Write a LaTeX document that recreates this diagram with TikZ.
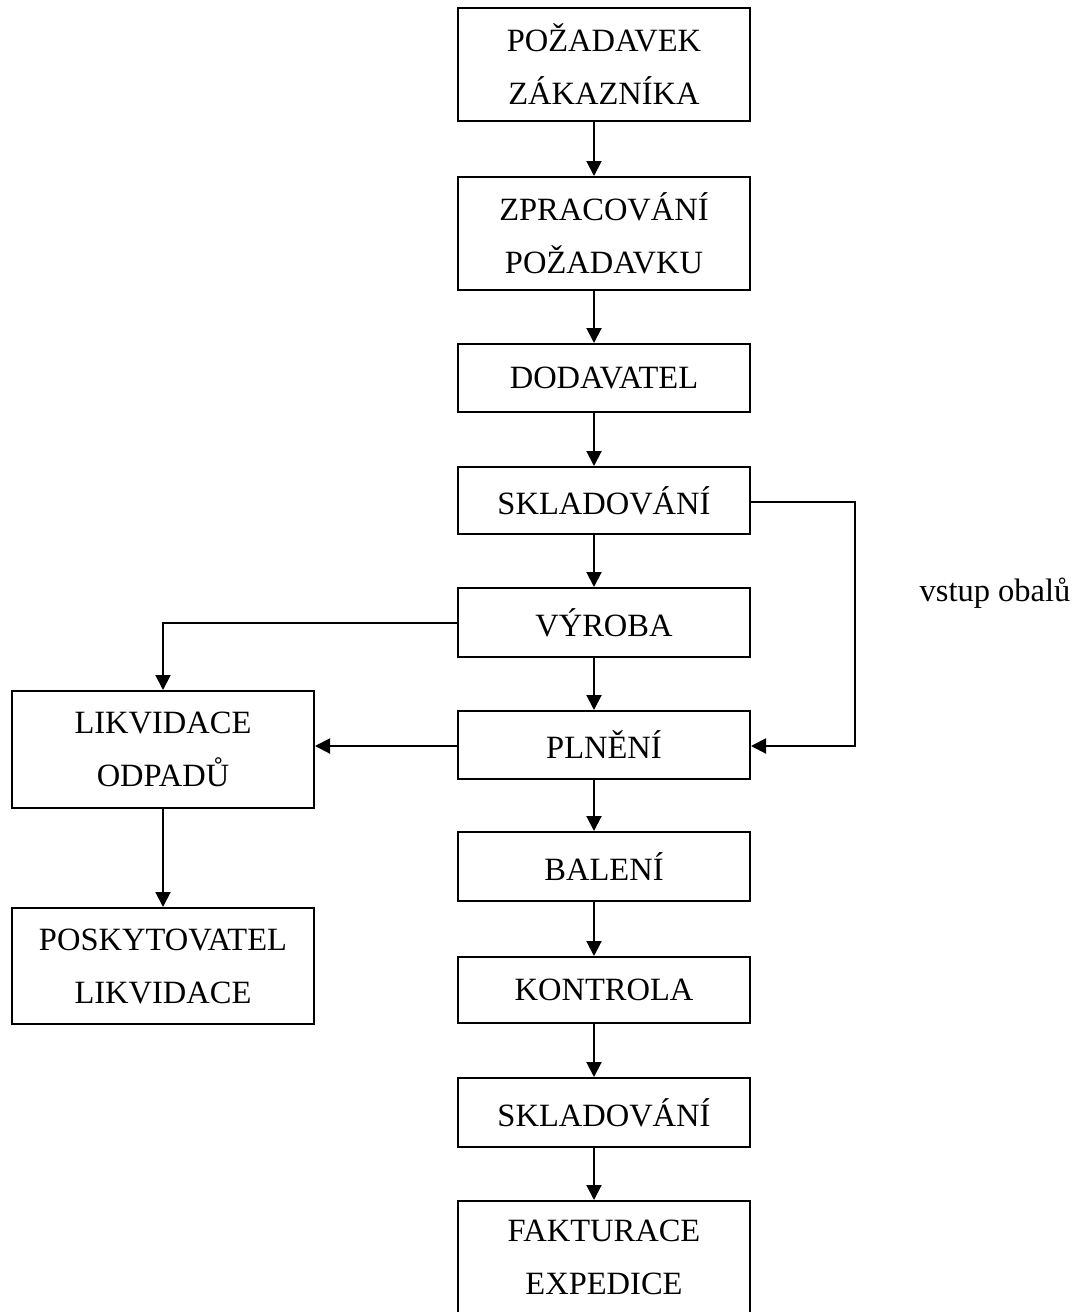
\documentclass[tikz,border=0pt]{standalone}
\usepackage{fontspec}
\setmainfont{Liberation Serif}
\usepackage{tikz}
\usetikzlibrary{arrows.meta, positioning}

\begin{document}
\begin{tikzpicture}[x=0.5pt, y=-0.5pt,
	box/.style={draw, line width=1pt, minimum width=146pt, inner sep=0pt, align=center, font=\fontsize{16.25pt}{26.5pt}\selectfont},
	sidebox/.style={box, minimum width=151pt},
	flow/.style={-{Triangle[length=7.5pt, width=7.5pt]}, line width=1pt}]
			\useasboundingbox (0, 0) rectangle (1075, 1312);
			% Boxes of the main flow and the waste branch:
			\node[box, minimum height=56.5pt](zak) at (604, 64.5){POŽADAVEK\\ZÁKAZNÍKA};
			\node[box, minimum height=56.5pt](zprac) at (604, 233.5){ZPRACOVÁNÍ\\POŽADAVKU};
			\node[box, minimum height=34pt](dod) at (604, 378){DODAVATEL};
			\node[box, minimum height=33.5pt](skladA) at (604, 500.5){SKLADOVÁNÍ};
			\node[box, minimum height=34.5pt](vyroba) at (604, 622.5){VÝROBA};
			\node[box, minimum height=34pt](plneni) at (604, 745){PLNĚNÍ};
			\node[box, minimum height=34.5pt](baleni) at (604, 866.5){BALENÍ};
			\node[box, minimum height=33pt](kontrola) at (604, 990){KONTROLA};
			\node[box, minimum height=34.5pt](skladB) at (604, 1112.5){SKLADOVÁNÍ};
			\node[box, minimum height=56.5pt](fakt) at (604, 1257.5){FAKTURACE\\EXPEDICE};
			\node[sidebox, minimum height=58.5pt](likv) at (163, 749.5){LIKVIDACE\\ODPADŮ};
			\node[sidebox, minimum height=58pt](posk) at (163, 966){POSKYTOVATEL\\LIKVIDACE};
			\node[font=\fontsize{16.25pt}{26.5pt}\selectfont](obaly) at (995, 593){vstup obalů};
			% Arrows:
			\draw[flow] ([xshift=-5pt]zak.south) -- ([xshift=-5pt]zprac.north);
			\draw[flow] ([xshift=-5pt]zprac.south) -- ([xshift=-5pt]dod.north);
			\draw[flow] ([xshift=-5pt]dod.south) -- ([xshift=-5pt]skladA.north);
			\draw[flow] ([xshift=-5pt]skladA.south) -- ([xshift=-5pt]vyroba.north);
			\draw[flow] ([xshift=-5pt]vyroba.south) -- ([xshift=-5pt]plneni.north);
			\draw[flow] ([xshift=-5pt]plneni.south) -- ([xshift=-5pt]baleni.north);
			\draw[flow] ([xshift=-5pt]baleni.south) -- ([xshift=-5pt]kontrola.north);
			\draw[flow] ([xshift=-5pt]kontrola.south) -- ([xshift=-5pt]skladB.north);
			\draw[flow] ([xshift=-5pt]skladB.south) -- ([xshift=-5pt]fakt.north);
			\draw[flow] (vyroba.west) -| (likv.north);
			\draw[flow] ([yshift=-0.5pt]plneni.west) -- ([yshift=-0.5pt]plneni.west -| likv.east);
			\draw[flow] ([yshift=-0.75pt]skladA.east) -- ++(104, 0) |- ([yshift=-0.5pt]plneni.east);
			\draw[flow] (likv.south) -- (posk.north);
		\end{tikzpicture}
\end{document}
